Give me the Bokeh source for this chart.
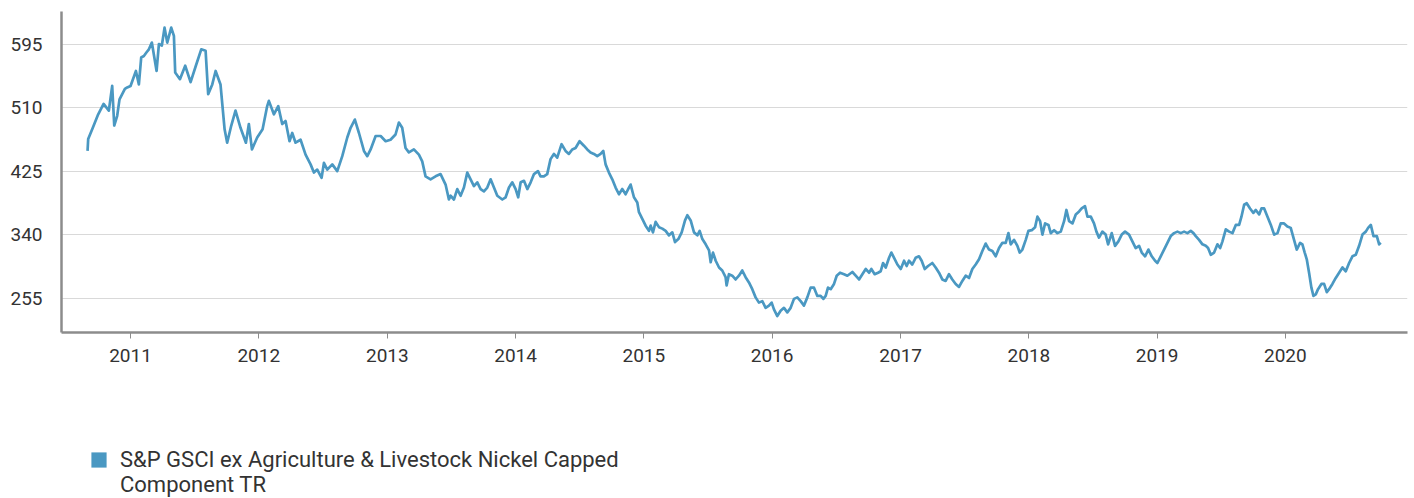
import pandas as pd
from bokeh.plotting import figure
from bokeh.layouts import column
from bokeh.models import ColumnDataSource, Range1d, FixedTicker, Legend, LegendItem, CustomJSTickFormatter
from bokeh.embed import file_html
from bokeh.resources import INLINE

# ---- data ----
# time in decimal years, index level
t_years = [
    2010.665, 2010.670, 2010.706, 2010.748, 2010.790, 2010.831, 2010.857, 2010.873, 2010.896, 2010.914,
    2010.956, 2010.974, 2011.000, 2011.042, 2011.065, 2011.083, 2011.104, 2011.125, 2011.143, 2011.166,
    2011.203, 2011.221, 2011.244, 2011.265, 2011.286, 2011.317, 2011.338, 2011.348, 2011.385, 2011.426,
    2011.468, 2011.509, 2011.551, 2011.585, 2011.605, 2011.637, 2011.663, 2011.701, 2011.733, 2011.753,
    2011.785, 2011.818, 2011.857, 2011.899, 2011.922, 2011.946, 2011.987, 2012.029, 2012.065,
    2012.078, 2012.117, 2012.151, 2012.182, 2012.208, 2012.239, 2012.260, 2012.286, 2012.325, 2012.364,
    2012.403, 2012.429, 2012.455, 2012.489, 2012.507, 2012.533, 2012.572, 2012.611, 2012.650, 2012.689,
    2012.715, 2012.748, 2012.780, 2012.819, 2012.845, 2012.871, 2012.910, 2012.949, 2012.988, 2013.026,
    2013.065, 2013.091, 2013.117, 2013.143, 2013.169, 2013.208, 2013.247, 2013.273, 2013.299, 2013.338,
    2013.377, 2013.416, 2013.455, 2013.481,
    2013.494, 2013.520, 2013.546, 2013.572, 2013.598, 2013.624, 2013.650, 2013.676, 2013.702, 2013.728,
    2013.754, 2013.780, 2013.806, 2013.832, 2013.858, 2013.897, 2013.923, 2013.949, 2013.975, 2014.001,
    2014.021, 2014.040, 2014.066, 2014.092, 2014.118, 2014.144, 2014.175, 2014.195, 2014.221, 2014.247,
    2014.273, 2014.299, 2014.325, 2014.359, 2014.390, 2014.416, 2014.442, 2014.468, 2014.499, 2014.533,
    2014.559, 2014.585, 2014.611, 2014.637, 2014.663, 2014.684, 2014.702, 2014.728, 2014.754, 2014.780,
    2014.806, 2014.832, 2014.858, 2014.884, 2014.897, 2014.923,
    2014.949, 2014.962, 2014.988, 2015.014, 2015.040, 2015.053, 2015.071, 2015.092, 2015.118, 2015.144,
    2015.170, 2015.196, 2015.222, 2015.243, 2015.269, 2015.295, 2015.321, 2015.339, 2015.365, 2015.391,
    2015.417, 2015.435, 2015.456, 2015.482, 2015.508, 2015.521, 2015.539, 2015.560, 2015.586, 2015.611,
    2015.637, 2015.645, 2015.663, 2015.689, 2015.715, 2015.741, 2015.767, 2015.793, 2015.819, 2015.845,
    2015.871, 2015.897, 2015.923, 2015.949, 2015.975, 2015.996, 2016.014, 2016.040, 2016.066, 2016.092,
    2016.118, 2016.144, 2016.170, 2016.196, 2016.222, 2016.248, 2016.274, 2016.300, 2016.326, 2016.352,
    2016.378, 2016.399, 2016.417, 2016.435, 2016.456, 2016.482, 2016.503, 2016.529, 2016.560, 2016.586,
    2016.625, 2016.651, 2016.677, 2016.703, 2016.729, 2016.755, 2016.773, 2016.799, 2016.825, 2016.846,
    2016.864, 2016.885, 2016.911, 2016.929, 2016.950, 2016.976, 2017.002, 2017.028, 2017.048, 2017.066,
    2017.092, 2017.118, 2017.144, 2017.165, 2017.189, 2017.215, 2017.248, 2017.274, 2017.300, 2017.326,
    2017.352, 2017.378, 2017.404, 2017.430, 2017.456, 2017.482, 2017.508, 2017.534, 2017.560, 2017.586,
    2017.612, 2017.638, 2017.664, 2017.690, 2017.716, 2017.742, 2017.768, 2017.794,
    2017.820, 2017.841, 2017.859, 2017.885, 2017.911, 2017.929, 2017.950, 2017.976, 2017.997, 2018.023,
    2018.049, 2018.067, 2018.088, 2018.106, 2018.127, 2018.153, 2018.171, 2018.197, 2018.223, 2018.249,
    2018.275, 2018.293, 2018.314, 2018.340, 2018.366, 2018.392, 2018.412, 2018.438, 2018.457, 2018.483,
    2018.508, 2018.527, 2018.547, 2018.573, 2018.599, 2018.618, 2018.646, 2018.672, 2018.698, 2018.724,
    2018.750, 2018.781, 2018.807, 2018.833, 2018.859, 2018.880, 2018.906, 2018.932, 2018.958, 2018.984,
    2019.002, 2019.028, 2019.054, 2019.080, 2019.106, 2019.132, 2019.158, 2019.184, 2019.210, 2019.236,
    2019.262, 2019.283, 2019.301, 2019.327, 2019.353, 2019.379, 2019.397, 2019.418, 2019.444, 2019.470,
    2019.491, 2019.509, 2019.535, 2019.561, 2019.587, 2019.613, 2019.639, 2019.657, 2019.678, 2019.698,
    2019.724, 2019.750, 2019.769, 2019.795, 2019.813, 2019.834, 2019.860, 2019.886, 2019.912, 2019.938,
    2019.963, 2019.989, 2020.015, 2020.041, 2020.067, 2020.088, 2020.114, 2020.132, 2020.150, 2020.166,
    2020.184, 2020.202, 2020.218, 2020.236, 2020.254, 2020.280, 2020.301, 2020.322, 2020.340, 2020.366,
    2020.392, 2020.418, 2020.444, 2020.470, 2020.496, 2020.522, 2020.548, 2020.574, 2020.600, 2020.626,
    2020.644, 2020.665, 2020.686, 2020.712, 2020.730, 2020.743,
]
index_values = [
    452, 468, 483, 501, 515, 506, 539, 486, 499, 521,
    535, 537, 539, 559, 541, 577, 579, 584, 588, 597,
    559, 595, 593, 617, 597, 617, 606, 557, 548, 566,
    544, 566, 588, 586, 528, 541, 559, 541, 481, 463,
    486, 506, 483, 463, 488, 454, 470, 481, 512,
    519, 501, 512, 488, 492, 465, 476, 463, 467, 447,
    434, 423, 427, 416, 436, 427, 434, 425, 445, 470,
    483, 494, 476, 452, 445, 454, 472, 472, 465, 467,
    474, 490, 483, 456, 450, 454, 447, 438, 418, 414,
    418, 421, 407, 387,
    392, 387, 401, 392, 403, 423, 414, 405, 410, 401,
    398, 403, 414, 403, 392, 387, 390, 403, 410, 401,
    390, 410, 412, 401, 410, 421, 425, 418, 418, 421,
    441, 448, 443, 461, 452, 448, 454, 456, 465, 459,
    454, 450, 448, 445, 448, 452, 434, 423, 414, 403,
    394, 401, 394, 403, 407, 390,
    383, 370, 361, 352, 345, 352, 343, 357, 350, 348,
    345, 339, 343, 330, 334, 343, 359, 366, 359, 343,
    339, 345, 334, 327, 319, 303, 316, 305, 296, 292,
    283, 272, 287, 285, 280, 285, 292, 283, 276, 267,
    256, 249, 251, 242, 245, 249, 240, 231, 238, 242,
    236, 242, 254, 256, 251, 245, 256, 269, 269, 258,
    258, 254, 258, 269, 267, 274, 285, 289, 287, 285,
    290, 285, 280, 287, 294, 289, 294, 287, 289, 291,
    302, 296, 309, 316, 309, 300, 294, 305, 298, 305,
    300, 309, 311, 305, 294, 298, 302, 296, 289, 280,
    278, 287, 280, 274, 270, 278, 285, 282, 294, 300,
    307, 318, 328, 320, 318, 311, 322, 329,
    329, 342, 327, 333, 325, 316, 320, 333, 345, 346,
    350, 364, 358, 340, 355, 353, 342, 346, 342, 344,
    358, 373, 358, 355, 367, 371, 375, 378, 364, 364,
    355, 344, 336, 344, 340, 327, 342, 325, 331, 340,
    344, 340, 331, 322, 325, 316, 311, 320, 311, 305,
    302, 311, 320, 329, 338, 342, 344, 342, 344, 342,
    345, 342, 338, 333, 327, 325, 322, 313, 316, 327,
    322, 331, 347, 344, 342, 353, 353, 364, 380, 382,
    375, 369, 373, 367, 375, 375, 364, 353, 340, 342,
    355, 355, 351, 349, 333, 320, 329, 327, 316, 307,
    289, 269, 258, 260, 267, 274, 274, 263, 267, 274,
    282, 289, 296, 291, 302, 311, 313, 325, 340, 344,
    349, 353, 338, 338, 327, 329,
]
y_ticks = [255, 340, 425, 510, 595]
x_tick_years = [2011, 2012, 2013, 2014, 2015, 2016, 2017, 2018, 2019, 2020]
series_name_lines = ["S&P GSCI ex Agriculture & Livestock Nickel Capped", "Component TR"]

LINE_COLOR = "#4a98c2"
TEXT_COLOR = "#333333"
FONT = "Roboto"


def to_dt(y):
    return pd.Timestamp("2011-01-01") + pd.to_timedelta((y - 2011.0) * 365.25, unit="D")


src = ColumnDataSource(dict(date=[to_dt(t) for t in t_years], value=index_values))

p = figure(
    width=1414, height=440, x_axis_type="datetime",
    output_backend="svg", toolbar_location=None,
    x_range=Range1d(to_dt(2010.462), to_dt(2020.951)),
    y_range=Range1d(209.0, 638.6),
    min_border_left=61, min_border_right=7, min_border_top=11, min_border_bottom=108,
)
p.outline_line_color = None
p.background_fill_color = "white"
p.border_fill_color = "white"

p.line("date", "value", source=src, line_color=LINE_COLOR, line_width=2.7, line_join="round")

# grid
p.xgrid.grid_line_color = None
p.ygrid.grid_line_color = "#d9d9d9"
p.ygrid.grid_line_width = 1.2
p.ygrid.ticker = FixedTicker(ticks=y_ticks)

# y axis
p.yaxis.ticker = FixedTicker(ticks=y_ticks)
p.yaxis.axis_line_color = "#8c8c8c"
p.yaxis.axis_line_width = 2.5
p.yaxis.major_tick_line_color = None
p.yaxis.minor_tick_line_color = None
p.yaxis.major_label_standoff = 13
p.yaxis.major_label_text_font = FONT
p.yaxis.major_label_text_font_size = "19px"
p.yaxis.major_label_text_color = TEXT_COLOR

# x axis
x_ticks = [pd.Timestamp(f"{y}-01-01").value // 10**6 for y in x_tick_years]
p.xaxis.ticker = FixedTicker(ticks=x_ticks)
p.xaxis.formatter = CustomJSTickFormatter(code="return new Date(tick).getUTCFullYear().toString();")
p.xaxis.axis_line_color = "#8c8c8c"
p.xaxis.axis_line_width = 2.5
p.xaxis.major_tick_line_color = "#8c8c8c"
p.xaxis.major_tick_in = 0
p.xaxis.major_tick_out = 6
p.xaxis.minor_tick_line_color = None
p.xaxis.major_label_standoff = 10
p.xaxis.major_label_text_font = FONT
p.xaxis.major_label_text_font_size = "19px"
p.xaxis.major_label_text_color = TEXT_COLOR

# ---- legend strip below the chart ----
lg = figure(
    width=1414, height=58, output_backend="svg", toolbar_location=None,
    x_range=Range1d(0, 1), y_range=Range1d(0, 1),
    x_axis_location=None, y_axis_location=None,
    min_border_left=0, min_border_right=0, min_border_top=0, min_border_bottom=0,
)
lg.outline_line_color = None
lg.xgrid.visible = False
lg.ygrid.visible = False
# swatch renderers: NaN data so they draw nothing themselves, only their legend entries
nan = float("nan")
sw = lg.quad(left=[nan], right=[nan], top=[nan], bottom=[nan], fill_color=LINE_COLOR, line_color=None)
sw_blank = lg.quad(left=[nan], right=[nan], top=[nan], bottom=[nan], fill_alpha=0, line_alpha=0)
legend = Legend(
    items=[LegendItem(label=series_name_lines[0], renderers=[sw]),
           LegendItem(label=series_name_lines[1], renderers=[sw_blank])],
    location=(28, 1), padding=0, margin=0, spacing=0,
    glyph_width=19, glyph_height=19, label_standoff=12,
    label_text_font=FONT, label_text_font_size="22px", label_text_color=TEXT_COLOR,
    label_text_line_height=1.05,
    border_line_color=None, background_fill_alpha=0,
)
lg.add_layout(legend)

layout = column(p, lg, spacing=0)
open("out.html", "w").write(file_html(layout, INLINE))
